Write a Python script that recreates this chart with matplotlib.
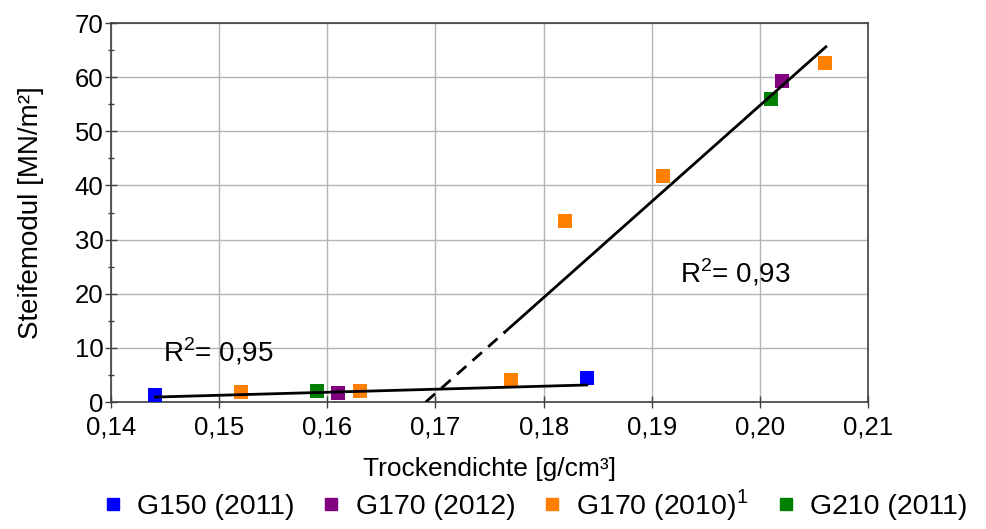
import matplotlib
matplotlib.use("Agg")
import matplotlib.pyplot as plt
import matplotlib.ticker as tick
from matplotlib.lines import Line2D

plt.rcParams['font.family'] = ['Liberation Sans', 'DejaVu Sans']

# data
g150_x = [0.1441, 0.1840]
g150_y = [1.3, 4.4]
g170_12_x = [0.161, 0.202]
g170_12_y = [1.7, 59.3]
g170_10_x = [0.152, 0.163, 0.177, 0.182, 0.191, 0.206]
g170_10_y = [1.8, 2.0, 4.1, 33.4, 41.7, 62.6]
g210_x = [0.159, 0.201]
g210_y = [2.0, 56.0]

series = [
    ("G150 (2011)", g150_x, g150_y, "#0000ff"),
    ("G170 (2012)", g170_12_x, g170_12_y, "#800080"),
    ("G170 (2010)$^{\\mathregular{1}}$", g170_10_x, g170_10_y, "#ff8000"),
    ("G210 (2011)", g210_x, g210_y, "#008000"),
]

# trend lines (end points)
fit_low_x = [0.1441, 0.1840]
fit_low_y = [0.92, 3.15]
fit_high_x = [0.1764, 0.2061]
fit_high_y = [12.9, 65.6]
fit_dash_x = [0.1691, 0.1764]
fit_dash_y = [0.0, 12.9]

fig = plt.figure(figsize=(9.87, 5.29), dpi=100)
ax = fig.add_axes([0.1125, 0.240, 0.767, 0.7165])

for lab, xs, ys, c in series:
    ax.scatter(xs, ys, marker='s', s=90, color=c, zorder=3, linewidths=0)

ax.plot(fit_low_x, fit_low_y, color='black', lw=2, zorder=4)
ax.plot(fit_high_x, fit_high_y, color='black', lw=2, zorder=4)
ax.plot(fit_dash_x, fit_dash_y, color='black', lw=2, ls=(0, (4.5, 3)), zorder=4)

ax.text(0.1448, 9.2, "R$^{\\mathregular{2}}$= 0,95", fontsize=20, va='center', ha='left')
ax.text(0.1926, 23.8, "R$^{\\mathregular{2}}$= 0,93", fontsize=20, va='center', ha='left')

ax.set_xlim(0.14, 0.21)
ax.set_ylim(0, 70)
ax.xaxis.set_major_locator(tick.MultipleLocator(0.01))
ax.xaxis.set_major_formatter(tick.FuncFormatter(lambda v, p: f"{v:.2f}".replace('.', ',')))
ax.yaxis.set_major_locator(tick.MultipleLocator(10))
ax.yaxis.set_minor_locator(tick.MultipleLocator(5))

ax.grid(which='major', color='#b4b4b4', lw=1)
ax.set_axisbelow(True)
for s in ax.spines.values():
    s.set_color('#404040')
    s.set_linewidth(1.2)
ax.tick_params(which='major', direction='inout', length=9, width=1, color='#404040',
               labelsize=18.5, pad=1)
ax.tick_params(axis='x', which='major', pad=5)
ax.tick_params(which='minor', direction='inout', length=5, width=1, color='#404040')

ax.set_xlabel("Trockendichte [g/cm³]", fontsize=19, labelpad=13)
ax.set_ylabel("Steifemodul [MN/m²]", fontsize=20, labelpad=22)

handles = [Line2D([], [], marker='s', ls='none', color=c, markersize=8) for _, _, _, c in series]
labels = [lab for lab, _, _, _ in series]
fig.legend(handles, labels, loc='center', bbox_to_anchor=(0.54, 0.045), ncol=4,
           frameon=False, fontsize=20.5, handletextpad=0.35, columnspacing=0.8,
           handlelength=1.0, borderpad=0.2)

fig.savefig("out.png", dpi=100)
